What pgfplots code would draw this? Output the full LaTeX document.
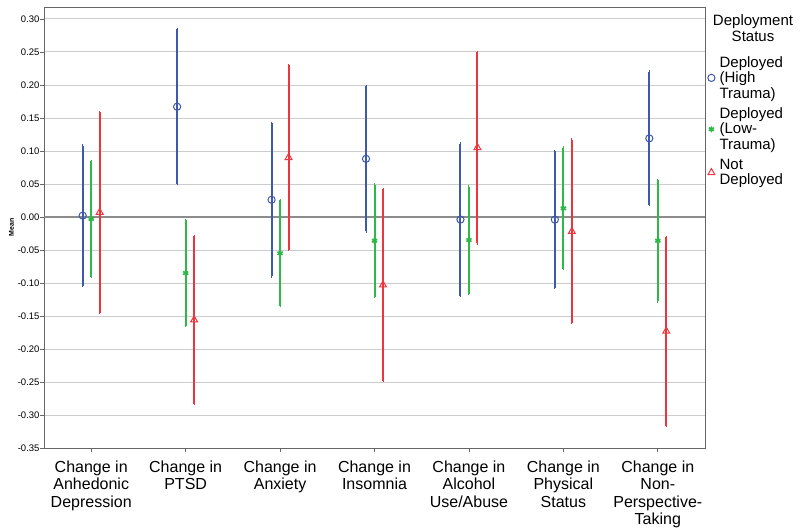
\documentclass[border=0pt]{standalone}
\usepackage{fontspec}
\setmainfont{Liberation Sans}
\usepackage{pgfplots}
\pgfplotsset{compat=1.18}
\definecolor{cblue}{RGB}{62,88,172}
\definecolor{cgreen}{RGB}{46,184,72}
\definecolor{cred}{RGB}{238,52,60}
\begin{document}
\begin{tikzpicture}
\begin{axis}[name=ax,
  scale only axis, width=661pt, height=441pt,
  xmin=-0.5, xmax=6.5, ymin=-0.35, ymax=0.318,
  axis line style={draw=black!60, line width=0.8pt},
  xtick={0,...,6},
  xticklabels={{Change in\\Anhedonic\\Depression},{Change in\\PTSD},{Change in\\Anxiety},{Change in\\Insomnia},{Change in\\Alcohol\\Use/Abuse},{Change in\\Physical\\Status},{Change in\\Non-\\Perspective-\\Taking}},
  xticklabel style={align=center, font=\fontsize{16}{17.5}\selectfont, yshift=-5pt},
  ytick={-0.35,-0.30,...,0.31},
  yticklabel style={font=\fontsize{9.5}{10}\selectfont, xshift=3pt},
  /pgf/number format/assume math mode=true,
  /pgf/number format/.cd, fixed, fixed zerofill, precision=2, /pgfplots/.cd,
  tick align=outside, major tick length=4pt,
  tick style={draw=black!60, line width=0.6pt},
  xtick pos=bottom, ytick pos=left,
  ymajorgrids, grid style={draw=black!20, line width=0.8pt},
  extra y ticks={0}, extra y tick labels={},
  extra y tick style={grid style={draw=black!45, line width=1.4pt}, major tick length=0pt},
  ylabel={Mean}, ylabel style={font=\fontsize{7}{8}\selectfont\bfseries, at={(axis description cs:-0.049,0.5)}, anchor=center},
  error bars/y dir=both, error bars/y explicit,
  legend style={at={(1,1)}, anchor=north west, xshift=1pt, yshift=-48pt,
    draw=none, fill=none, inner sep=0pt, row sep=6pt,
    font=\fontsize{15}{15.5}\selectfont, nodes={align=left, inner sep=1pt}},
  legend cell align=left,
  legend image code/.code={\path (0pt,0pt) (12pt,0pt); \draw plot coordinates {(5pt,0pt)};},
]
\addplot[only marks, color=cblue, mark=o, mark size=3.6pt, mark options={line width=1pt},
  error bars/error bar style={line width=2pt, draw=cblue},
  error bars/error mark options={draw=cblue, mark size=1.2pt, line width=1pt}]
 coordinates {
 (-0.09,0.002) +- (0,0.106)
 (0.91,0.167) +- (0,0.117)
 (1.91,0.026) +- (0,0.116)
 (2.91,0.088) +- (0,0.110)
 (3.91,-0.004) +- (0,0.115)
 (4.91,-0.004) +- (0,0.104)
 (5.91,0.119) +- (0,0.101)
 };
\addlegendentry{Deployed\\(High\\Trauma)}
\addplot[only marks, color=cgreen, mark=asterisk, mark size=3pt, mark options={line width=1.6pt},
  error bars/error bar style={line width=2pt, draw=cgreen},
  error bars/error mark options={draw=cgreen, mark size=1.2pt, line width=1pt}]
 coordinates {
 (0,-0.003) +- (0,0.088)
 (1,-0.085) +- (0,0.080)
 (2,-0.055) +- (0,0.080)
 (3,-0.036) +- (0,0.085)
 (4,-0.035) +- (0,0.081)
 (5,0.013) +- (0,0.092)
 (6,-0.036) +- (0,0.092)
 };
\addlegendentry{Deployed\\(Low-\\Trauma)}
\addplot[only marks, color=cred, mark=triangle, mark size=4pt, mark options={line width=1pt},
  error bars/error bar style={line width=2pt, draw=cred},
  error bars/error mark options={draw=cred, mark size=1.2pt, line width=1pt}]
 coordinates {
 (0.09,0.007) +- (0,0.152)
 (1.09,-0.156) +- (0,0.127)
 (2.09,0.090) +- (0,0.140)
 (3.09,-0.103) +- (0,0.145)
 (4.09,0.105) +- (0,0.145)
 (5.09,-0.022) +- (0,0.139)
 (6.09,-0.173) +- (0,0.143)
 };
\addlegendentry{Not\\Deployed}
\end{axis}
\node[align=center, font=\fontsize{15}{15.5}\selectfont, inner sep=0pt] at ([xshift=48pt,yshift=-21pt]ax.north east) {Deployment\\Status};
\pgfresetboundingbox
\path ([shift={(-44pt,-79pt)}]ax.south west) rectangle ([shift={(95pt,7pt)}]ax.north east);
\end{tikzpicture}
\end{document}
